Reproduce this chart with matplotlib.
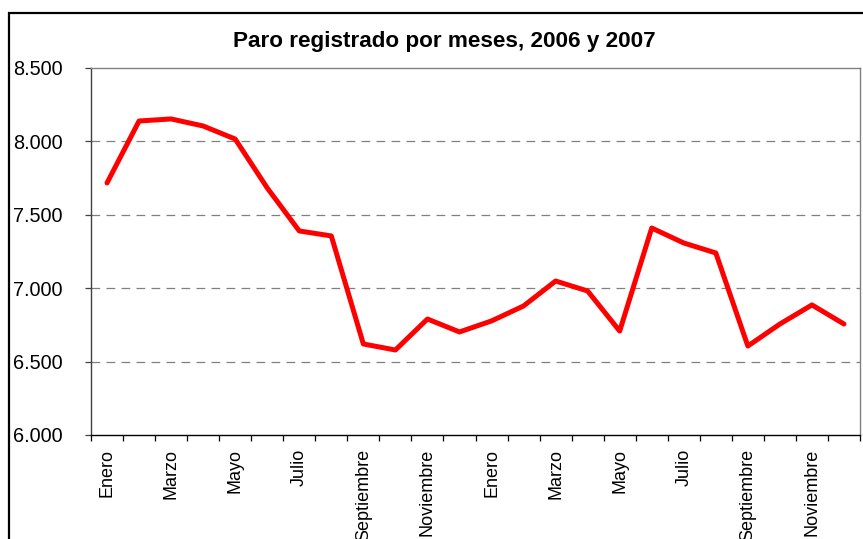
import matplotlib
matplotlib.use('Agg')
import matplotlib.pyplot as plt
from matplotlib.patches import Rectangle
from matplotlib.ticker import FuncFormatter
import numpy as np

plt.rcParams['font.family'] = ['Liberation Sans', 'DejaVu Sans']

# paro registrado, enero 2006 - diciembre 2007
meses = ['Enero', 'Febrero', 'Marzo', 'Abril', 'Mayo', 'Junio', 'Julio', 'Agosto',
         'Septiembre', 'Octubre', 'Noviembre', 'Diciembre']
paro = [7717, 8139, 8153, 8105, 8016, 7683, 7390, 7356, 6620, 6579, 6790, 6702,
        6777, 6879, 7049, 6981, 6708, 7410, 7308, 7240, 6606, 6756, 6886, 6756]
etiquetas = meses * 2

fig = plt.figure(figsize=(8.63, 5.39), dpi=100)
ax = fig.add_axes([91/863, 1 - 435/539, (860 - 91)/863, (435 - 68)/539])

x = np.arange(len(paro))
ax.plot(x, paro, color='#ff0000', lw=3.6, solid_joinstyle='round', solid_capstyle='round',
        zorder=3)

ax.set_xlim(-0.5, len(paro) - 0.5)
ax.set_ylim(6000, 8500)
ax.set_yticks(np.arange(6000, 8501, 500))
ax.yaxis.set_major_formatter(FuncFormatter(lambda v, p: f'{v:,.0f}'.replace(',', '.')))
for v in [6500, 7000, 7500, 8000]:
    ax.axhline(v, color='#808080', lw=0.9, dashes=(7, 5), zorder=1)

# etiquetas cada dos meses, marcas entre categorias
ax.set_xticks(x[::2])
ax.set_xticklabels(etiquetas[::2], rotation=90, fontsize=13)
ax.set_xticks(np.arange(-0.5, len(paro)), minor=True)
ax.tick_params(axis='x', which='major', length=0, pad=10)
ax.tick_params(axis='x', which='minor', length=4, width=0.9, color='#000000')
ax.tick_params(axis='y', labelsize=14.3, length=4.3, width=0.9, pad=16, color='#404040')

ax.spines['top'].set_color('#808080')
ax.spines['right'].set_color('#808080')
ax.spines['left'].set_color('#404040')
ax.spines['bottom'].set_color('#000000')
for s in ax.spines.values():
    s.set_linewidth(1.0)

fig.text(444/863, 1 - 42/539, 'Paro registrado por meses, 2006 y 2007',
         ha='center', va='center', fontsize=16.2, fontweight='bold')

# marco del grafico
fig.add_artist(Rectangle((8.5/863, -0.1), 1.0, 1.1 - 13.5/539, transform=fig.transFigure,
                         fill=False, edgecolor='black', lw=1.6, clip_on=False))

fig.savefig('out.png', dpi=100)
